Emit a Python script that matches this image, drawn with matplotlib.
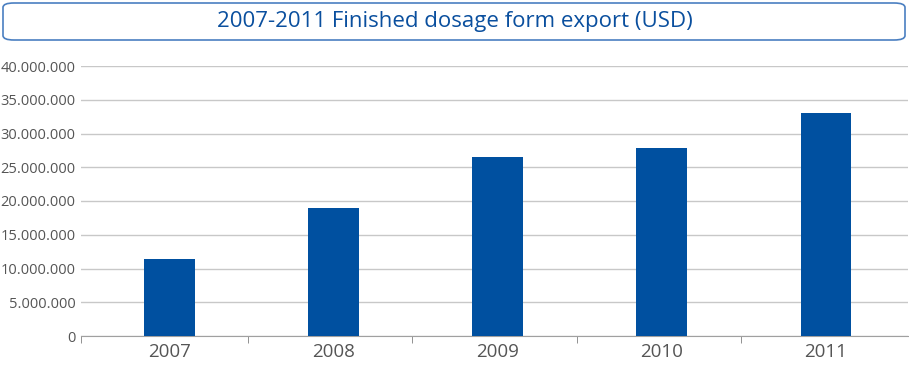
import matplotlib.pyplot as plt
from matplotlib.patches import FancyBboxPatch
from matplotlib.ticker import FuncFormatter, FixedLocator

years = ['2007', '2008', '2009', '2010', '2011']
exports = [11400000, 18900000, 26500000, 27800000, 33100000]
title = '2007-2011 Finished dosage form export (USD)'

plt.rcParams['font.family'] = ['Open Sans', 'DejaVu Sans']

fig = plt.figure(figsize=(9.09, 3.67), dpi=100)
W, H = 909, 367
ax = fig.add_axes([81 / W, 31 / H, 827 / W, 270 / H])

x = range(len(years))
ax.bar(x, exports, width=0.31, color='#0050a0', zorder=3)

ax.set_xlim(-0.54, len(years) - 0.5)
ax.set_ylim(0, 40000000)
ax.set_yticks(range(0, 40000001, 5000000))
ax.yaxis.set_major_formatter(FuncFormatter(lambda v, p: f'{int(v):,}'.replace(',', '.')))
ax.set_xticks(list(x))
ax.set_xticklabels(years)
ax.xaxis.set_minor_locator(FixedLocator([-0.54] + [i - 0.52 for i in range(1, len(years))]))

ax.grid(axis='y', color='#c8c8c8', linewidth=1, zorder=0)
for s in ['top', 'right', 'left']:
    ax.spines[s].set_visible(False)
ax.spines['bottom'].set_color('#a0a0a0')

ax.tick_params(axis='y', length=0, labelsize=10.5, labelcolor='#555555', pad=4)
ax.tick_params(axis='x', which='major', length=0, labelsize=13.5, labelcolor='#555555', pad=5)
ax.tick_params(axis='x', which='minor', length=5, color='#808080', direction='out')

box = FancyBboxPatch((3 / W, 327 / H), 902 / W, 37 / H,
                     boxstyle='round,pad=0,rounding_size=0.012',
                     transform=fig.transFigure, facecolor='white',
                     edgecolor='#4a7fc1', linewidth=1.2)
fig.patches.append(box)
fig.text(0.5, 346 / H, title, ha='center', va='center', fontsize=16, color='#0a4f9e')

fig.savefig('out.png', dpi=100)
